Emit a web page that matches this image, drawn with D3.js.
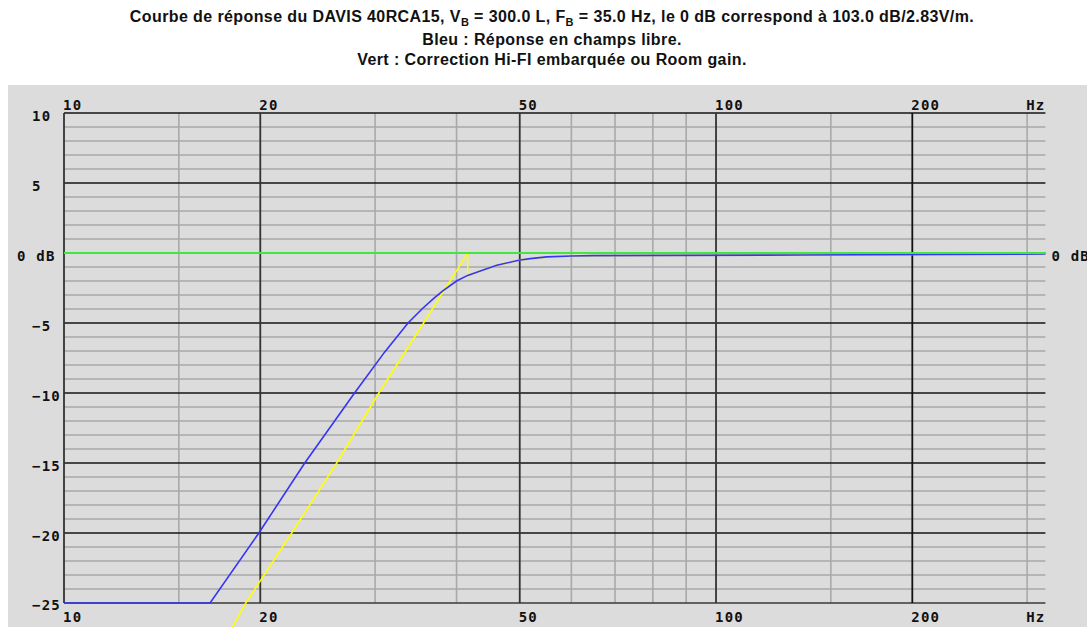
<!DOCTYPE html>
<html>
<head>
<meta charset="utf-8">
<script src="https://cdn.jsdelivr.net/npm/d3@7"></script>
<style>
  body { margin: 0; background: #fff; }
  svg { display: block; }
  .title { font-family: "Liberation Sans", Arial, sans-serif; font-weight: bold; font-size: 16px; fill: #111; letter-spacing: 0.4px; }
  .tick { font-family: "DejaVu Sans Mono", monospace; font-weight: bold; font-size: 14px; fill: #111; letter-spacing: 1.2px; }
</style>
</head>
<body>
<div id="chart"></div>
<script>
// Frequency axis (Hz, log)
const freqDomain = [10, 320];
const freqMajor = [10, 20, 50, 100, 200];
const freqMinor = [15, 30, 40, 60, 70, 80, 90, 150, 300];
const freqLabels = ["10", "20", "50", "100", "200"];

// Level axis (dB)
const dbDomain = [-25, 10];
const dbMajor = [10, 5, 0, -5, -10, -15, -20, -25];
const dbLabels = ["10", "5", "0 dB", "\u22125", "\u221210", "\u221215", "\u221220", "\u221225"];

// Blue: free-field response (clipped at -25 dB by the plot)
const blueFreq = [10, 16.75, 19.9, 23.4, 27.9, 31.0, 33.7, 35.4, 36.9, 38.1, 40.0, 41.6, 43.5, 46.1, 49.8, 51.9, 55, 60, 65, 135, 320];
const blueDb   = [-25, -25, -20, -15, -10, -7.1, -5, -4.0, -3.24, -2.7, -2.0, -1.6, -1.28, -0.88, -0.52, -0.4, -0.28, -0.21, -0.19, -0.14, -0.07];

// Yellow: corrected response
const yellowFreq = [18.0, 19.0, 22.35, 26.2, 30.4, 35.6, 41.6, 41.6, 43.5, 46.1, 49.8, 55, 65, 135, 320];
const yellowDb   = [-27, -25, -20, -15, -10, -5, 0, -1.6, -1.28, -0.88, -0.52, -0.28, -0.19, -0.14, -0.07];

// Green: Hi-Fi correction / room gain
const greenFreq = [10, 320];
const greenDb   = [0, 0];

const width = 1087, height = 627;

const svg = d3.select('#chart').append('svg')
    .attr('width', width)
    .attr('height', height);

// Gray panel
svg.append('rect')
    .attr('x', 8).attr('y', 85)
    .attr('width', width - 8).attr('height', height - 85)
    .attr('fill', '#dcdcdc');

// Title
const title = svg.append('g').attr('class', 'title').attr('text-anchor', 'middle');
const t1 = title.append('text').attr('x', 552).attr('y', 22);
t1.append('tspan').text('Courbe de réponse du DAVIS 40RCA15, V');
t1.append('tspan').attr('font-size', '11px').attr('dy', 4).text('B');
t1.append('tspan').attr('dy', -4).text(' = 300.0 L, F');
t1.append('tspan').attr('font-size', '11px').attr('dy', 4).text('B');
t1.append('tspan').attr('dy', -4).text(' = 35.0 Hz, le 0 dB correspond à 103.0 dB/2.83V/m.');
title.append('text').attr('x', 552).attr('y', 45).text('Bleu : Réponse en champs libre.');
title.append('text').attr('x', 552).attr('y', 65).text('Vert : Correction Hi-FI embarquée ou Room gain.');

const x = d3.scaleLog().domain(freqDomain).range([64, 1045.4]);
const y = d3.scaleLinear().domain(dbDomain).range([603, 113]);

const [x0, x1] = x.range();
const [yb, yt] = y.range();

// Minor horizontal grid (every dB)
const dbMinor = y.ticks(35).filter(d => d % 5 !== 0);
svg.append('g').selectAll('line').data(dbMinor).join('line')
    .attr('x1', x0).attr('x2', x1)
    .attr('y1', d => y(d)).attr('y2', d => y(d))
    .attr('stroke', '#a9a9a9').attr('stroke-width', 1.6);

// Minor vertical grid
svg.append('g').selectAll('line').data(freqMinor).join('line')
    .attr('x1', d => x(d)).attr('x2', d => x(d))
    .attr('y1', yt).attr('y2', yb)
    .attr('stroke', '#a9a9a9').attr('stroke-width', 1.6);

// Major horizontal grid
svg.append('g').selectAll('line').data(dbMajor).join('line')
    .attr('x1', x0).attr('x2', x1)
    .attr('y1', d => y(d)).attr('y2', d => y(d))
    .attr('stroke', d => d === dbDomain[0] ? '#3a3a3a' : '#151515')
    .attr('stroke-width', 1.6);

// Major vertical grid
svg.append('g').selectAll('line').data(freqMajor).join('line')
    .attr('x1', d => x(d)).attr('x2', d => x(d))
    .attr('y1', yt).attr('y2', yb)
    .attr('stroke', d => d === 200 ? '#111' : '#333')
    .attr('stroke-width', 1.8);

// Frequency labels, top and bottom
const fl = freqMajor.map((f, i) => ({ f, label: freqLabels[i] }));
[yt - 3, yb + 19].forEach(yy => {
    svg.append('g').attr('class', 'tick').selectAll('text').data(fl).join('text')
        .attr('x', d => x(d.f) - 1)
        .attr('y', yy)
        .text(d => d.label);
    svg.append('text').attr('class', 'tick')
        .attr('x', x1).attr('y', yy)
        .attr('text-anchor', 'end')
        .text('Hz');
});

// dB labels, left
svg.append('g').attr('class', 'tick').selectAll('text').data(dbMajor).join('text')
    .attr('x', d => d === 0 ? 17 : 32)
    .attr('y', d => y(d) + (d === dbDomain[0] ? 6.5 : 7.5))
    .text((d, i) => dbLabels[i]);

// dB label, right
svg.append('text').attr('class', 'tick')
    .attr('x', x1 + 6).attr('y', y(0) + 7.5)
    .text('0 dB');

const line = d3.line()
    .x(d => x(d[0]))
    .y(d => y(d[1]));

svg.append('path')
    .datum(yellowFreq.map((f, i) => [f, yellowDb[i]]))
    .attr('d', line)
    .attr('fill', 'none')
    .attr('stroke', '#ffff00')
    .attr('stroke-width', 1.5);

svg.append('path')
    .datum(blueFreq.map((f, i) => [f, blueDb[i]]))
    .attr('d', line)
    .attr('fill', 'none')
    .attr('stroke', '#3535f5')
    .attr('stroke-width', 1.6);

svg.append('path')
    .datum(greenFreq.map((f, i) => [f, greenDb[i]]))
    .attr('d', line)
    .attr('fill', 'none')
    .attr('stroke', '#3ee83e')
    .attr('stroke-width', 2);
</script>
</body>
</html>
